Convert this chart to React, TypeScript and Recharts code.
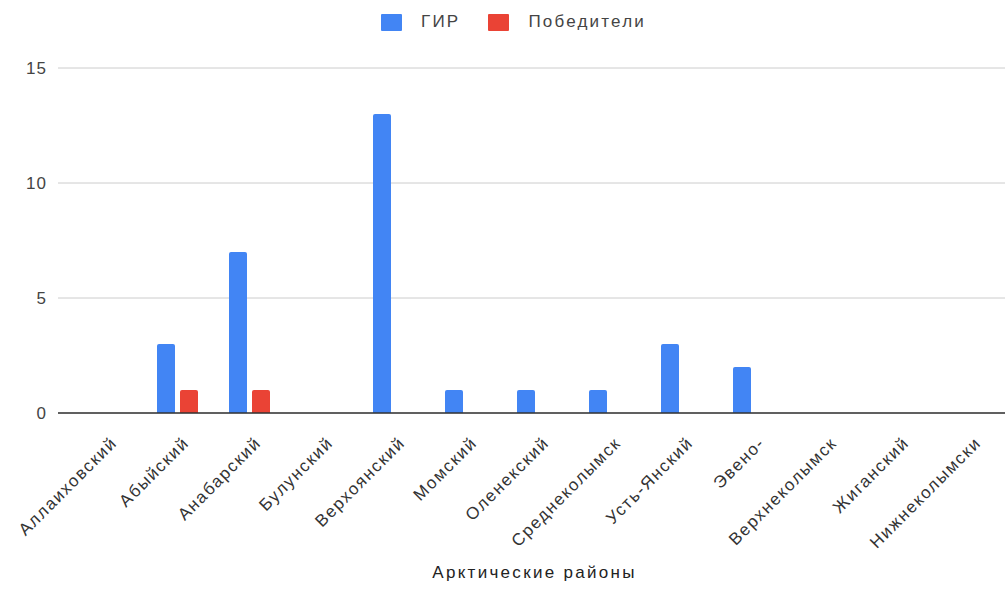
import React from "react";
import { Bar, BarChart, CartesianGrid, Label, Legend, XAxis, YAxis } from "recharts";

const districts = [
  "Аллаиховский",
  "Абыйский",
  "Анабарский",
  "Булунский",
  "Верхоянский",
  "Момский",
  "Оленекский",
  "Среднеколымск",
  "Усть-Янский",
  "Эвено-",
  "Верхнеколымск",
  "Жиганский",
  "Нижнеколымски"
];
const girValues = [0, 3, 7, 0, 13, 1, 1, 1, 3, 2, 0, 0, 0];
const winnerValues = [0, 1, 1, 0, 0, 0, 0, 0, 0, 0, 0, 0, 0];
const yTicks = [0, 5, 10, 15];

const seriesNames = { gir: "ГИР", winners: "Победители" };
const blue = "#4285f4";
const red = "#ea4335";
const font = "'Liberation Sans', Arial, sans-serif";

const data = districts.map((name, i) => ({ name, gir: girValues[i], winners: winnerValues[i] }));

function SlantTick({ x, y, payload }: { x?: number; y?: number; payload?: { value: string } }) {
  const tx = (x ?? 0) + 13;
  const ty = (y ?? 0) + 23;
  return (
    <text
      x={tx}
      y={ty}
      transform={`rotate(-45, ${tx}, ${ty})`}
      textAnchor="end"
      fill="#333"
      fontSize={17}
      fontFamily={font}
      letterSpacing={1.6}
    >
      {payload?.value}
    </text>
  );
}

function LegendBox() {
  const items = [
    { label: seriesNames.gir, color: blue },
    { label: seriesNames.winners, color: red }
  ];
  return (
    <div style={{ height: 58, display: "flex", justifyContent: "center", gap: 28, paddingLeft: 22 }}>
      {items.map((item) => (
        <div key={item.label} style={{ display: "flex", alignItems: "flex-start", gap: 19 }}>
          <div style={{ width: 21, height: 17, marginTop: 4, flexShrink: 0, backgroundColor: item.color, borderRadius: 1 }} />
          <div style={{ fontSize: 17, lineHeight: "24px", color: "#444", fontFamily: font, letterSpacing: 2.2 }}>{item.label}</div>
        </div>
      ))}
    </div>
  );
}

export default function App() {
  return (
    <div style={{ position: "absolute", left: 0, top: 0, width: 1005, height: 603, background: "#fff" }}>
      <BarChart
        width={1005}
        height={603}
        data={data}
        margin={{ top: 10, right: 0, bottom: 0, left: 0 }}
        barSize={18}
        barGap={5}
      >
        <Legend verticalAlign="top" content={<LegendBox />} />
        <CartesianGrid stroke="#cccccc" vertical={false} />
        <XAxis
          dataKey="name"
          interval={0}
          height={190}
          padding={{ left: 11, right: 0 }}
          tick={<SlantTick />}
          tickLine={false}
          axisLine={{ stroke: "#333", strokeWidth: 1.5 }}
        >
          <Label
            value="Арктические районы"
            position="insideBottom"
            offset={25}
            dx={3}
            fill="#222"
            fontSize={17}
            fontFamily={font}
            letterSpacing={2.3}
          />
        </XAxis>
        <YAxis
          width={58}
          domain={[0, 15]}
          ticks={yTicks}
          tickLine={false}
          axisLine={false}
          tickMargin={5}
          tick={{ fill: "#444", fontSize: 17, fontFamily: font, letterSpacing: 1 }}
        />
        <Bar dataKey="gir" name={seriesNames.gir} fill={blue} radius={[2, 2, 0, 0]} isAnimationActive={false} />
        <Bar dataKey="winners" name={seriesNames.winners} fill={red} radius={[2, 2, 0, 0]} isAnimationActive={false} />
      </BarChart>
    </div>
  );
}
